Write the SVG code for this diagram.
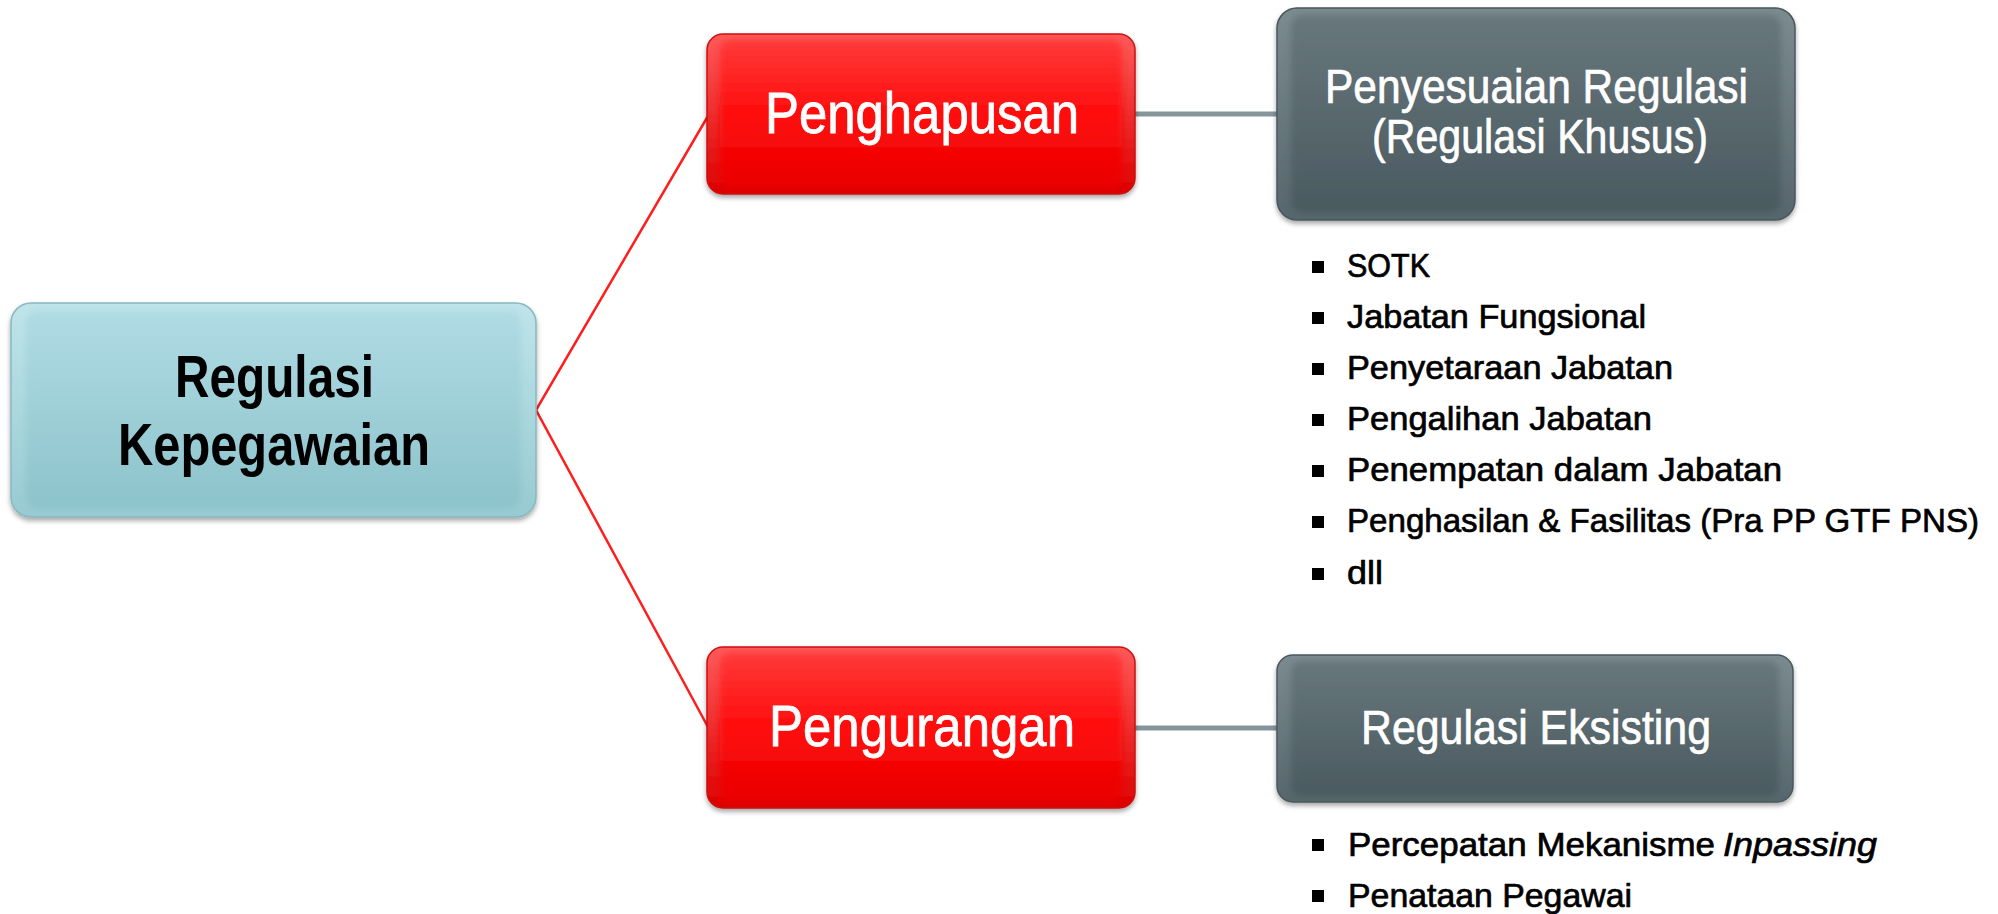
<svg xmlns="http://www.w3.org/2000/svg" width="1998" height="914" viewBox="0 0 1998 914">
  <style>
    text { font-family: "Liberation Sans", Arial, sans-serif; }
    .main-t { font-size: 60px; font-weight: bold; fill: #000; }
    .red-t { font-size: 57px; fill: #fff; stroke: #fff; stroke-width: 0.8; }
    .gray-t { font-size: 49px; fill: #fff; stroke: #fff; stroke-width: 0.7; }
    .list-t { font-size: 34px; fill: #000; stroke: #000; stroke-width: 0.7; }
    .bullet { fill: #000; }
    .red-line { stroke: #ff1e1e; stroke-width: 2.5; fill: none; }
    .gray-line { stroke: #86959a; stroke-width: 5; fill: none; }
    .hl { stroke-width: 4; stroke-linecap: round; fill: none; }
  </style>
  <defs>
    <linearGradient id="tealOuter" x1="0" y1="0" x2="0" y2="1">
      <stop offset="0" stop-color="#bfe4ea"/>
      <stop offset="1" stop-color="#98cad2"/>
    </linearGradient>
    <linearGradient id="tealInner" x1="0" y1="0" x2="0" y2="1">
      <stop offset="0" stop-color="#b0dbe4"/>
      <stop offset="1" stop-color="#8dc3cb"/>
    </linearGradient>
    <linearGradient id="redOuter" x1="0" y1="0" x2="0" y2="1">
      <stop offset="0" stop-color="#ff5a5a"/>
      <stop offset="1" stop-color="#dd0000"/>
    </linearGradient>
    <linearGradient id="redInner" x1="0" y1="0" x2="0" y2="1">
      <stop offset="0" stop-color="#ff3a3a"/>
      <stop offset="0.5" stop-color="#ff0c0c"/>
      <stop offset="1" stop-color="#ea0000"/>
    </linearGradient>
    <linearGradient id="grayOuter" x1="0" y1="0" x2="0" y2="1">
      <stop offset="0" stop-color="#7b8b90"/>
      <stop offset="1" stop-color="#56666c"/>
    </linearGradient>
    <linearGradient id="grayInner" x1="0" y1="0" x2="0" y2="1">
      <stop offset="0" stop-color="#67777c"/>
      <stop offset="1" stop-color="#4a5a60"/>
    </linearGradient>
    <filter id="soft" x="-5%" y="-5%" width="110%" height="110%">
      <feGaussianBlur stdDeviation="3"/>
    </filter>
    <filter id="shadow" x="-5%" y="-5%" width="110%" height="115%">
      <feGaussianBlur in="SourceAlpha" stdDeviation="2.5"/>
      <feOffset dx="0" dy="3" result="b"/>
      <feComponentTransfer><feFuncA type="linear" slope="0.35"/></feComponentTransfer>
      <feMerge><feMergeNode/><feMergeNode in="SourceGraphic"/></feMerge>
    </filter>
  </defs>

  <g id="connectors">
    <polyline class="red-line" points="708,116 536,410 708,727"/>
    <line class="gray-line" x1="1134" y1="114" x2="1278" y2="114"/>
    <line class="gray-line" x1="1134" y1="728" x2="1278" y2="728"/>
  </g>

  <g id="node-regulasi-kepegawaian">
    <rect x="11" y="303" width="525" height="214" rx="20" fill="url(#tealOuter)" stroke="#88b8c0" stroke-width="1.5" filter="url(#shadow)"/>
    <rect x="26" y="311" width="495" height="198" rx="12" fill="url(#tealInner)" filter="url(#soft)"/>
    <line class="hl" x1="527" y1="322" x2="527" y2="498" stroke="#eefcfe" filter="url(#soft)"/>
    <line class="hl" x1="19" y1="325" x2="19" y2="495" stroke="#d6f2f6" filter="url(#soft)"/>
    <text class="main-t" x="175" y="397" textLength="199" lengthAdjust="spacingAndGlyphs">Regulasi</text>
    <text class="main-t" x="118" y="465" textLength="312" lengthAdjust="spacingAndGlyphs">Kepegawaian</text>
  </g>

  <g id="node-penghapusan">
    <rect x="707" y="34" width="428" height="160" rx="16" fill="url(#redOuter)" stroke="#cc1010" stroke-width="1.5" filter="url(#shadow)"/>
    <rect x="720" y="40" width="402" height="148" rx="10" fill="url(#redInner)" filter="url(#soft)"/>
    <line class="hl" x1="714" y1="52" x2="714" y2="176" stroke="#ff7a7a" filter="url(#soft)"/>
    <line class="hl" x1="1128" y1="52" x2="1128" y2="176" stroke="#ff6a6a" filter="url(#soft)"/>
    <text class="red-t" x="765" y="133" textLength="314" lengthAdjust="spacingAndGlyphs">Penghapusan</text>
  </g>

  <g id="node-pengurangan">
    <rect x="707" y="647" width="428" height="161" rx="16" fill="url(#redOuter)" stroke="#cc1010" stroke-width="1.5" filter="url(#shadow)"/>
    <rect x="720" y="653" width="402" height="149" rx="10" fill="url(#redInner)" filter="url(#soft)"/>
    <line class="hl" x1="714" y1="665" x2="714" y2="790" stroke="#ff7a7a" filter="url(#soft)"/>
    <line class="hl" x1="1128" y1="665" x2="1128" y2="790" stroke="#ff6a6a" filter="url(#soft)"/>
    <text class="red-t" x="769" y="746" textLength="306" lengthAdjust="spacingAndGlyphs">Pengurangan</text>
  </g>

  <g id="node-penyesuaian-regulasi">
    <rect x="1277" y="8" width="518" height="212" rx="20" fill="url(#grayOuter)" stroke="#4a585e" stroke-width="1.5" filter="url(#shadow)"/>
    <rect x="1291" y="15" width="490" height="198" rx="12" fill="url(#grayInner)" filter="url(#soft)"/>
    <line class="hl" x1="1285" y1="30" x2="1285" y2="198" stroke="#93a3a8" filter="url(#soft)"/>
    <line class="hl" x1="1787" y1="30" x2="1787" y2="198" stroke="#9fb0b4" filter="url(#soft)"/>
    <text class="gray-t" x="1325" y="103" textLength="423" lengthAdjust="spacingAndGlyphs">Penyesuaian Regulasi</text>
    <text class="gray-t" x="1372" y="153" textLength="336" lengthAdjust="spacingAndGlyphs">(Regulasi Khusus)</text>
  </g>

  <g id="node-regulasi-eksisting">
    <rect x="1277" y="655" width="516" height="147" rx="16" fill="url(#grayOuter)" stroke="#4a585e" stroke-width="1.5" filter="url(#shadow)"/>
    <rect x="1291" y="661" width="488" height="135" rx="10" fill="url(#grayInner)" filter="url(#soft)"/>
    <line class="hl" x1="1285" y1="672" x2="1285" y2="785" stroke="#93a3a8" filter="url(#soft)"/>
    <line class="hl" x1="1785" y1="672" x2="1785" y2="785" stroke="#9fb0b4" filter="url(#soft)"/>
    <text class="gray-t" x="1361" y="744" textLength="350" lengthAdjust="spacingAndGlyphs">Regulasi Eksisting</text>
  </g>

  <g id="list-penyesuaian">
    <rect class="bullet" x="1312" y="261" width="12" height="12"/>
    <text class="list-t" x="1347" y="277" textLength="83" lengthAdjust="spacingAndGlyphs">SOTK</text>
    <rect class="bullet" x="1312" y="312" width="12" height="12"/>
    <text class="list-t" x="1347" y="328" textLength="299" lengthAdjust="spacingAndGlyphs">Jabatan Fungsional</text>
    <rect class="bullet" x="1312" y="363" width="12" height="12"/>
    <text class="list-t" x="1347" y="379" textLength="326" lengthAdjust="spacingAndGlyphs">Penyetaraan Jabatan</text>
    <rect class="bullet" x="1312" y="414" width="12" height="12"/>
    <text class="list-t" x="1347" y="430" textLength="305" lengthAdjust="spacingAndGlyphs">Pengalihan Jabatan</text>
    <rect class="bullet" x="1312" y="465" width="12" height="12"/>
    <text class="list-t" x="1347" y="481" textLength="435" lengthAdjust="spacingAndGlyphs">Penempatan dalam Jabatan</text>
    <rect class="bullet" x="1312" y="516" width="12" height="12"/>
    <text class="list-t" x="1347" y="532" textLength="632" lengthAdjust="spacingAndGlyphs">Penghasilan &amp; Fasilitas (Pra PP GTF PNS)</text>
    <rect class="bullet" x="1312" y="568" width="12" height="12"/>
    <text class="list-t" x="1347" y="584" textLength="36" lengthAdjust="spacingAndGlyphs">dll</text>
  </g>

  <g id="list-eksisting">
    <rect class="bullet" x="1312" y="839" width="12" height="12"/>
    <text class="list-t" x="1348" y="856" textLength="367" lengthAdjust="spacingAndGlyphs">Percepatan Mekanisme</text>
    <text class="list-t" x="1723" y="856" font-style="italic" textLength="154" lengthAdjust="spacingAndGlyphs">Inpassing</text>
    <rect class="bullet" x="1312" y="890" width="12" height="12"/>
    <text class="list-t" x="1348" y="907" textLength="284" lengthAdjust="spacingAndGlyphs">Penataan Pegawai</text>
  </g>
</svg>
